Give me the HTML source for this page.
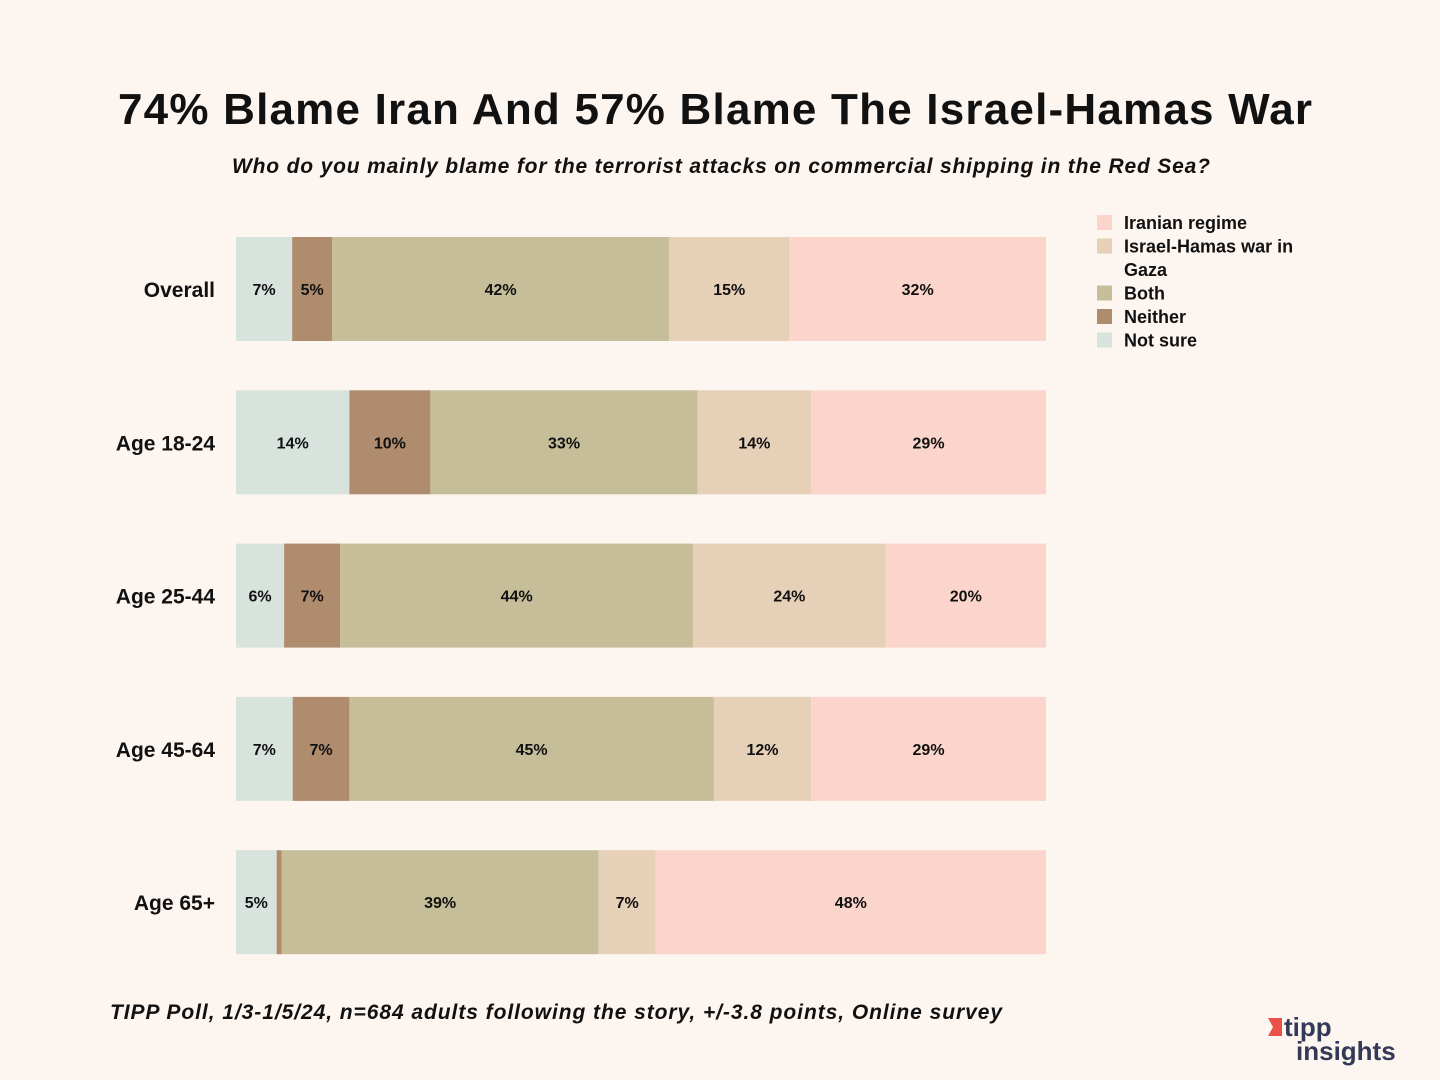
<!DOCTYPE html>
<html><head><meta charset="utf-8"><style>
body{margin:0;background:#fdf5f0;font-family:"Liberation Sans","DejaVu Sans",sans-serif}
#wrap{position:relative;width:1440px;height:1080px;overflow:hidden}
</style></head><body>
<div id="wrap">
<svg id="svg" width="1440" height="1080">
<text x="118" y="124" textLength="1194" lengthAdjust="spacing" font-size="44" font-weight="bold" fill="#111">74% Blame Iran And 57% Blame The Israel-Hamas War</text>
<text x="232" y="173" textLength="978" lengthAdjust="spacing" font-size="21" font-style="italic" font-weight="bold" fill="#111">Who do you mainly blame for the terrorist attacks on commercial shipping in the Red Sea?</text>
<text x="110" y="1019" textLength="892" lengthAdjust="spacing" font-size="21" font-style="italic" font-weight="bold" fill="#111">TIPP Poll, 1/3-1/5/24, n=684 adults following the story, +/-3.8 points, Online survey</text>
<g id="bars"></g>
<g id="legend"></g>
<g>
<path d="M1268 1018 L1282 1018 L1282 1036 L1268 1036 L1273 1027 Z" fill="#e8524a"/>
<text x="1284" y="1036" font-size="26" font-weight="bold" fill="#323a57">tipp</text>
<text x="1296" y="1060" font-size="26" font-weight="bold" fill="#323a57">insights</text>
</g>
</svg>
</div>
<script>
const categories=["Overall","Age 18-24","Age 25-44","Age 45-64","Age 65+"];
const seriesNames=["Not sure","Neither","Both","Israel-Hamas war in Gaza","Iranian regime"];
const notSure=[7,14,6,7,5];
const neither=[5,10,7,7,0.6];
const both=[42,33,44,45,39];
const israelHamas=[15,14,24,12,7];
const iranian=[32,29,20,29,48];
const colors=["#d8e3dd","#b08c6e","#c6be99","#e6d0b8","#fbd5cb"];
const series=[notSure,neither,both,israelHamas,iranian];
const NS="http://www.w3.org/2000/svg";
const x0=236,x1=1046,yTop=237,step=153.3,bh=104;
const g=document.getElementById('bars');
function mk(t,a,p){const e=document.createElementNS(NS,t);for(const k in a)e.setAttribute(k,a[k]);p.appendChild(e);return e;}
categories.forEach((c,i)=>{
  const y=yTop+i*step;
  let tot=0;series.forEach(s=>tot+=s[i]);
  const sx=v=>v/tot*(x1-x0);
  const lab=mk('text',{x:215,y:y+bh/2+8,'text-anchor':'end','font-size':21,'font-weight':'bold',fill:'#111'},g);
  lab.textContent=c;
  
  
  let cx=x0;
  series.forEach((s,j)=>{
    const w=sx(s[i]);
    const r=mk('rect',{x:cx,y:y,width:w,height:bh,fill:colors[j]},g);
    
    
    if(s[i]>=2){
      const t=mk('text',{x:cx+w/2,y:y+bh/2+6,'text-anchor':'middle','font-size':16,'font-weight':'bold',fill:'#111'},g);
      t.textContent=Math.round(s[i])+'%';
      
      
    }
    cx+=w;
  });
});
const lg=document.getElementById('legend');
const legItems=[[4,["Iranian regime"]],[3,["Israel-Hamas war in","Gaza"]],[2,["Both"]],[1,["Neither"]],[0,["Not sure"]]];
let ly=215;
legItems.forEach(([j,lines])=>{
  const r=mk('rect',{x:1097,y:ly,width:15,height:15,fill:colors[j]},lg);
  
  
  lines.forEach((l,k)=>{
    const t=mk('text',{x:1124,y:ly+14+k*23.5,'font-size':18,'font-weight':'bold',fill:'#111'},lg);
    t.textContent=l;
    
    
  });
  ly+=23.5*lines.length;
});
</script>
</body></html>
